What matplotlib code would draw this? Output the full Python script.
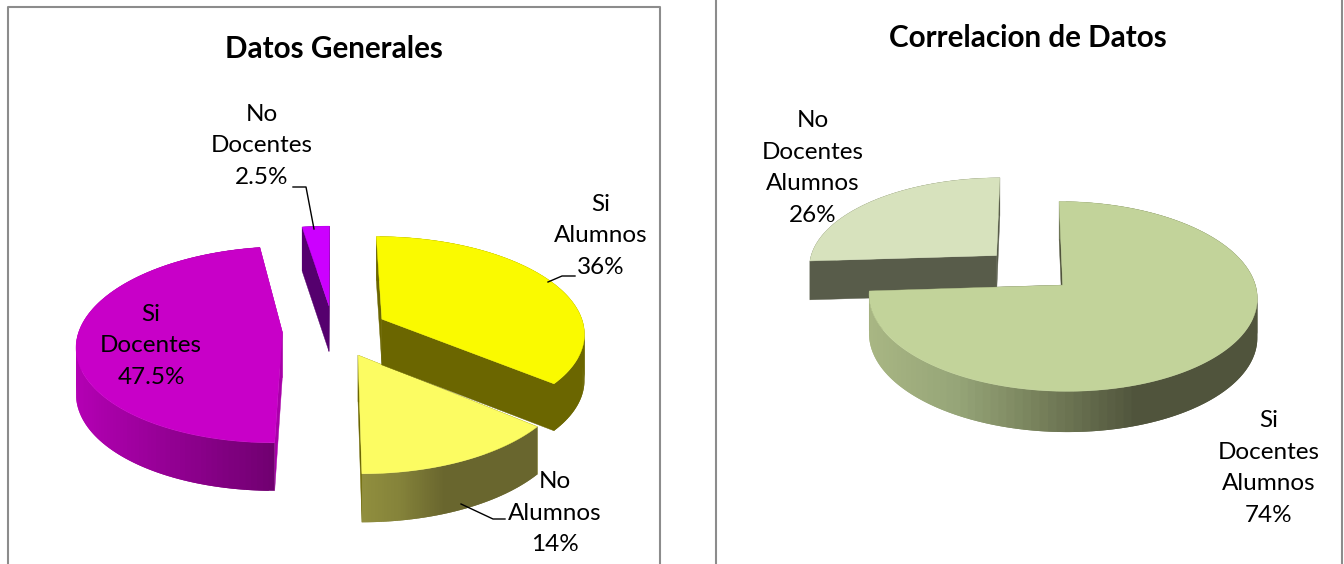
import numpy as np
import matplotlib
matplotlib.use("Agg")
import matplotlib.pyplot as plt
from matplotlib.colors import to_rgb

plt.rcParams["font.family"] = ["Lato", "DejaVu Sans"]

# ============================================
# Data
# ============================================
general_labels = ["Si\nAlumnos", "No\nAlumnos", "Si\nDocentes", "No\nDocentes"]
general_values = [36, 14, 47.5, 2.5]
correl_labels = ["Si\nDocentes\nAlumnos", "No\nDocentes\nAlumnos"]
correl_values = [74, 26]

W, H = 1344, 564
fig = plt.figure(figsize=(W / 100, H / 100), dpi=100)
ax = fig.add_axes([0, 0, 1, 1])
ax.set_xlim(0, W)
ax.set_ylim(H, 0)
ax.axis("off")


def project(X, Y, view):
    s = 1 / (1 + view["p"] * Y)
    return view["cx"] + view["a"] * X * s, view["cy"] - view["b"] * Y * s, s


def draw_slice(t0, t1, view, style):
    """one exploded slice of a 3D pie, angles clockwise from the top"""
    mid = (t0 + t1) / 2
    ox = style["explode"] * np.sin(mid)
    oy = style["explode"] * np.cos(mid)
    t = np.linspace(t0, t1, 240)
    x, y, s = project(ox + np.sin(t), oy + np.cos(t), view)
    x0, y0, s0 = project(np.array([ox]), np.array([oy]), view)
    drop = view["h"] * s ** 0.3
    drop0 = view["h"] * s0[0] ** 0.3

    # cut faces first
    ax.fill([x0[0], x[0], x[0], x0[0]], [y0[0], y[0], y[0] + drop[0], y0[0] + drop0],
            color=style["cut"], lw=0.3)
    ax.fill([x0[0], x[-1], x[-1], x0[0]], [y0[0], y[-1], y[-1] + drop[-1], y0[0] + drop0],
            color=style["cut"], lw=0.3)

    # outer wall, shaded along x. each strip overlaps the next so no seams show
    stops = style["wall"]
    sx = [p[0] for p in stops]
    rgb = np.array([to_rgb(p[1]) for p in stops])
    step = 2
    for i in range(0, len(t) - 1, step):
        j = min(i + 2 * step, len(t) - 1)
        c = [np.interp(x[i], sx, rgb[:, k]) for k in range(3)]
        xs = np.r_[x[i:j + 1], x[i:j + 1][::-1]]
        ys = np.r_[y[i:j + 1], (y + drop)[i:j + 1][::-1]]
        ax.fill(xs, ys, facecolor=c, edgecolor="none", lw=0)

    # top face
    ax.fill(np.r_[x0, x], np.r_[y0, y], color=style["top"], lw=0.3)


def draw_pie(values, view, styles, order):
    edges = np.r_[0, np.cumsum(values)] / np.sum(values) * 2 * np.pi
    for i in order:
        draw_slice(edges[i], edges[i + 1], view, styles[i])


# ============================================
# Frames
# ============================================
frame = "#8c8c8c"
ax.plot([8, 8, 660, 660], [H, 7, 7, H], color=frame, lw=1.5)
ax.plot([716, 716], [0, H], color=frame, lw=1.5)
ax.plot([1342, 1342], [0, H], color=frame, lw=1.5)

# ============================================
# Datos Generales
# ============================================
view_left = dict(cx=333, cy=330, a=203, b=96, p=0.13, h=46)
styles_left = [
    dict(top="#fafa00", cut="#6b6600", explode=0.27, wall=[(300, "#6b6600"), (600, "#6b6600")]),
    dict(top="#fcfc62", cut="#6b6600", explode=0.28, wall=[(362, "#918f3e"), (400, "#85833a"), (445, "#69662e"), (540, "#69662e")]),
    dict(top="#c800c8", cut="#a800a8", explode=0.25, wall=[(76, "#b400b4"), (277, "#700070")]),
    dict(top="#cc00ff", cut="#55006e", explode=0.26, wall=[(290, "#55006e"), (340, "#55006e")]),
]
draw_pie(general_values, view_left, styles_left, [3, 2, 1, 0])

# ============================================
# Correlacion de Datos
# ============================================
view_right = dict(cx=1029, cy=270, a=189, b=90, p=0.117, h=39)
styles_right = [
    dict(top="#c2d39a", cut="#4f533a", explode=0.24,
         wall=[(872, "#a8b683"), (960, "#96a578"), (1040, "#78825c"), (1140, "#50543c"), (1260, "#50543c")]),
    dict(top="#d7e2bd", cut="#585c4a", explode=0.24, wall=[(800, "#585c4a"), (1000, "#585c4a")]),
]
draw_pie(correl_values, view_right, styles_right, [1, 0])

# ============================================
# Leader lines
# ============================================
ax.plot([548, 562, 575], [282, 276, 276], color="black", lw=1)
ax.plot([461, 493, 505], [504, 519, 519], color="black", lw=1)
ax.plot([293, 306, 314], [187, 187, 229], color="black", lw=1)

# ============================================
# Text
# ============================================
label_size = 17.5
title_size = 21.3
spacing = 1.62


def label(x, y, name, value):
    ax.text(x, y, f"{name}\n{value:g}%", ha="center", va="center",
            fontsize=label_size, linespacing=spacing, color="black")


label(601, 236, general_labels[0], general_values[0])
label(555, 513, general_labels[1], general_values[1])
label(151, 346, general_labels[2], general_values[2])
label(262, 146, general_labels[3], general_values[3])
label(1269, 468, correl_labels[0], correl_values[0])
label(813, 168, correl_labels[1], correl_values[1])

ax.text(334, 49, "Datos Generales", ha="center", va="center", fontsize=title_size, fontweight="bold")
ax.text(1028, 38, "Correlacion de Datos", ha="center", va="center", fontsize=title_size, fontweight="bold")

fig.savefig("out.png", dpi=100)
